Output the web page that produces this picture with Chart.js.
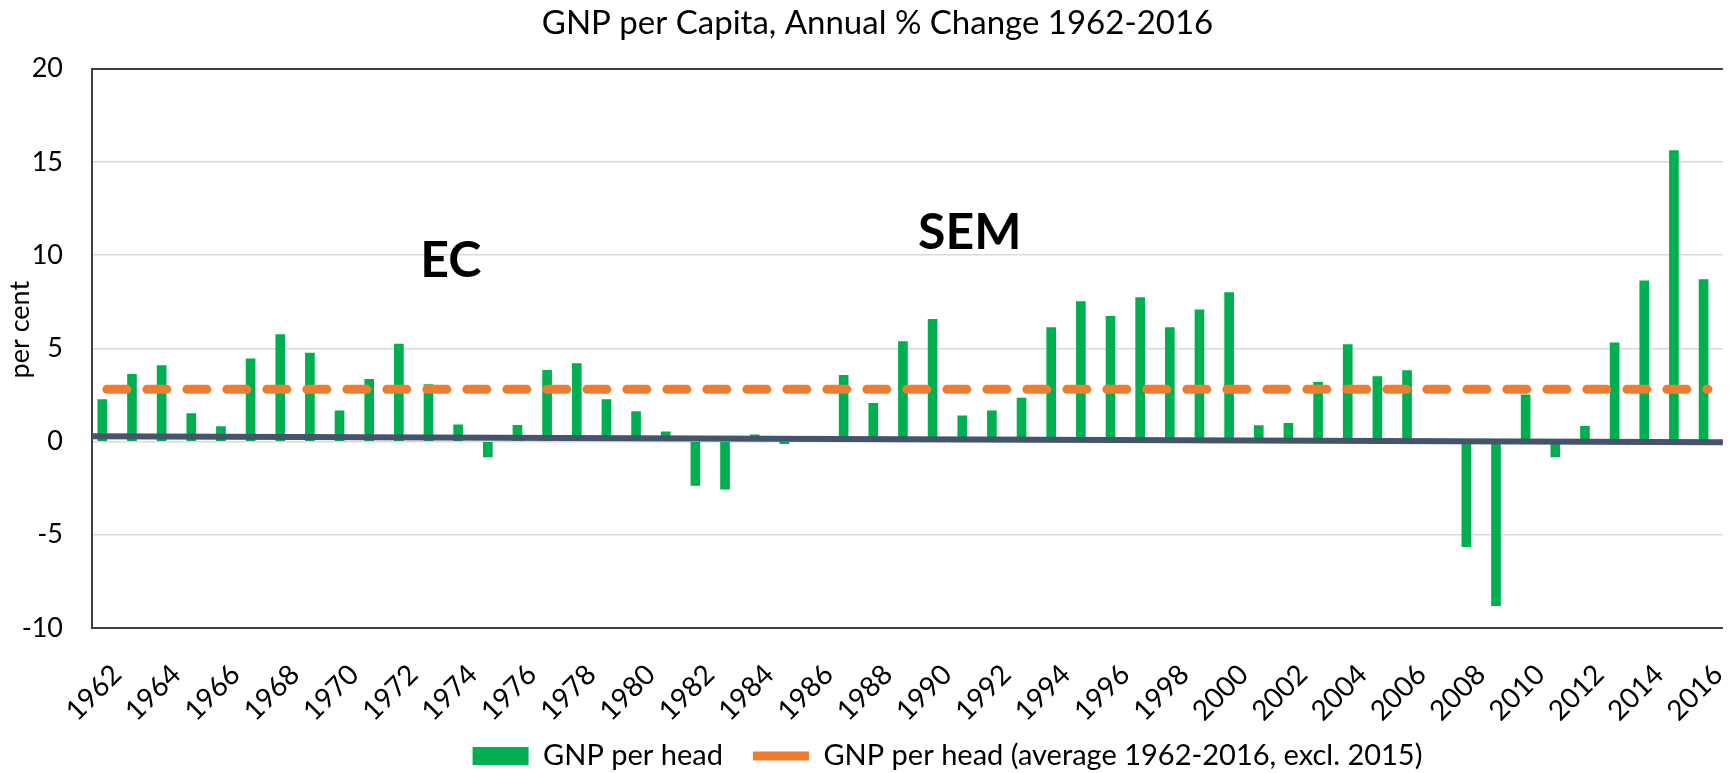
<!DOCTYPE html>
<html>
<head>
<meta charset="utf-8">
<title>GNP per Capita, Annual % Change 1962-2016</title>
<script src="https://cdn.jsdelivr.net/npm/chart.js@4.4.1/dist/chart.umd.min.js"></script>
<style>
  html, body { margin: 0; padding: 0; background: #fff; overflow: hidden; }
  #wrap { width: 1733px; height: 773px; overflow: hidden; }
</style>
</head>
<body>
<div id="wrap"><canvas id="chart" width="1754" height="773"></canvas></div>
<script>
const FONT = 'Lato, "Open Sans", sans-serif';

const years = [];
for (let y = 1962; y <= 2016; y++) years.push(String(y));

// annual % change, 1962 .. 2016
const gnpPerHead = [
  2.25, 3.6, 4.07, 1.5, 0.8, 4.44, 5.73, 4.75, 1.65, 3.33,   // 1962-1971
  5.23, 3.05, 0.9, -0.82, 0.87, 3.82, 4.18, 2.25, 1.6, 0.52,  // 1972-1981
  -2.36, -2.55, 0.36, -0.12, 0.05, 3.55, 2.05, 5.36, 6.56, 1.38, // 1982-1991
  1.65, 2.33, 6.11, 7.51, 6.72, 7.72, 6.11, 7.06, 7.99, 0.86, // 1992-2001
  0.98, 3.17, 5.2, 3.48, 3.8, 0.1, -5.64, -8.8, 2.5, -0.82,   // 2002-2011
  0.82, 5.3, 8.62, 15.6, 8.69                                  // 2012-2016
];

const averageValue = 2.8; // average 1962-2016, excl. 2015
const trendYears = [1961.4, 2016.6];
const trendValues = [0.29, -0.04];
const yTicks = [-10, -5, 0, 5, 10, 15, 20];

const notes = ['EC', 'SEM'];
const noteYears = [1973.6, 1991.1];
const noteValues = [9.7, 11.2];

const notesPlugin = {
    id: 'notes',
    afterDatasetsDraw(chart) {
        const { ctx, scales } = chart;
        ctx.save();
        ctx.font = 'bold 50px ' + FONT;
        ctx.fillStyle = '#000';
        ctx.textAlign = 'center';
        ctx.textBaseline = 'middle';
        notes.forEach((t, i) => {
            ctx.fillText(t, scales.xt.getPixelForValue(noteYears[i]), scales.y.getPixelForValue(noteValues[i]));
        });
        // axis title, a little above the middle like the original
        ctx.font = '27px ' + FONT;
        ctx.translate(20, scales.y.getPixelForValue(6));
        ctx.rotate(-Math.PI / 2);
        ctx.fillText('per cent', 0, 0);
        ctx.restore();
    }
};

// title and legend in the original sit right of the canvas centre;
// the year labels may run past the x axis box, so don't clip them
const boxShift = {
    id: 'boxShift',
    afterLayout(chart) {
        chart.titleBlock.left += 10;
        chart.titleBlock.right += 10;
        chart.legend.left += 80;
        chart.legend.right += 80;
        chart.scales.x.bottom = chart.height;
    }
};

const ctx = document.getElementById('chart').getContext('2d');
new Chart(ctx, {
    type: 'bar',
    data: {
        labels: years,
        datasets: [
            {
                type: 'bar',
                label: 'GNP per head',
                data: gnpPerHead,
                backgroundColor: '#00B050',
                barThickness: 9,
                order: 3
            },
            {
                type: 'line',
                label: 'GNP per head (average 1962-2016, excl. 2015)',
                data: years.map(() => averageValue),
                borderColor: '#ED7D31',
                backgroundColor: '#ED7D31',
                borderWidth: 9,
                borderDash: [20, 20],
                borderCapStyle: 'round',
                pointRadius: 0,
                order: 1
            },
            {
                type: 'line',
                label: 'Trend',
                data: trendYears.map((x, i) => ({ x: x, y: trendValues[i] })),
                xAxisID: 'xt',
                borderColor: '#44546A',
                borderWidth: 6,
                pointRadius: 0,
                order: 2
            }
        ]
    },
    options: {
        responsive: false,
        animation: false,
        layout: { padding: { top: 0, right: 19, bottom: -7.5, left: 0 } },
        plugins: {
            title: {
                display: true,
                text: 'GNP per Capita, Annual % Change 1962-2016',
                color: '#000',
                font: { size: 33, weight: 'normal', family: FONT },
                padding: { top: 4, bottom: 25 }
            },
            legend: {
                position: 'bottom',
                labels: {
                    usePointStyle: true,
                    pointStyleWidth: 56,
                    boxHeight: 18,
                    padding: 30,
                    color: '#000',
                    font: { size: 29, family: FONT },
                    filter: item => item.datasetIndex !== 2,
                    sort: (a, b) => a.datasetIndex - b.datasetIndex,
                    generateLabels(chart) {
                        const items = Chart.defaults.plugins.legend.labels.generateLabels(chart);
                        items.forEach(it => { it.pointStyle = it.datasetIndex === 0 ? 'rect' : 'line'; });
                        return items;
                    }
                }
            },
            tooltip: { enabled: false }
        },
        scales: {
            x: {
                type: 'category',
                offset: true,
                afterFit: scale => { scale.height = 83.5; },
                grid: { display: false },
                border: { color: '#404040', width: 2 },
                ticks: {
                    autoSkip: false,
                    maxRotation: 45,
                    minRotation: 45,
                    padding: 22,
                    labelOffset: 10,
                    color: '#000',
                    font: { size: 28, family: FONT },
                    callback: function(value, index) {
                        return index % 2 === 0 ? this.getLabelForValue(value) : '';
                    }
                }
            },
            xt: {
                type: 'linear',
                display: false,
                offset: false,
                min: 1961.5,
                max: 2016.5
            },
            y: {
                min: -10,
                max: 20,
                afterBuildTicks: scale => { scale.ticks = yTicks.map(v => ({ value: v })); },
                afterFit: scale => { scale.width = 92; },
                grid: {
                    color: c => c.tick.value === 20 ? '#404040' : '#D9D9D9',
                    lineWidth: c => c.tick.value === 20 ? 2 : 1.5,
                    drawTicks: false
                },
                border: { color: '#404040', width: 2 },
                ticks: {
                    padding: 29,
                    color: '#000',
                    font: { size: 27, family: FONT }
                }
            }
        }
    },
    plugins: [notesPlugin, boxShift]
});
</script>
</body>
</html>
